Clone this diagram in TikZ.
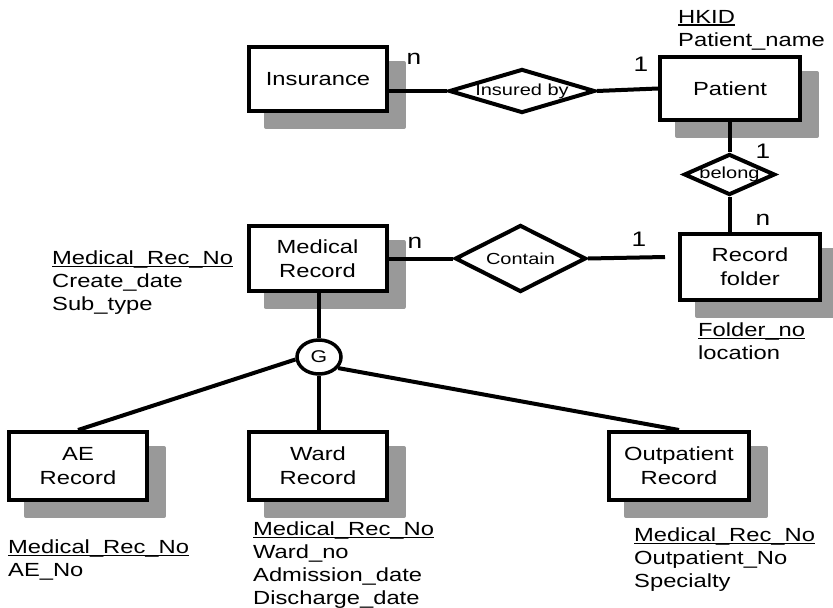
\documentclass[tikz,border=0pt]{standalone}
\usepackage{fontspec}
\setmainfont{Liberation Sans}[FakeStretch=1.25]
\usetikzlibrary{shapes.geometric,shadows}
\definecolor{shadowgray}{HTML}{999999}

% key attribute: underline sitting on the underscore level
\newsavebox\keybox
\newcommand\keyul[1]{\sbox\keybox{#1}\rlap{\rule[-2.5pt]{\wd\keybox}{1.3pt}}\usebox\keybox}
% relationship label that does not enlarge its diamond
\newcommand\rellabel[1]{\makebox[0pt]{#1}}

\begin{document}
\begin{tikzpicture}[x=1pt,y=-1pt,
  entity/.style={draw, line width=4pt, fill=white, rectangle,
    minimum width=138pt, minimum height=64pt, inner sep=0pt, align=center,
    font=\fontsize{19}{24}\selectfont,
    drop shadow={shadow xshift=17pt, shadow yshift=-16pt, opacity=1,
      fill=shadowgray, draw=shadowgray, line width=4pt, line join=round}},
  rel/.style={draw, diamond, line width=4pt, fill=white, inner sep=0pt,
    font=\fontsize{16}{19}\selectfont},
  gen/.style={draw, ellipse, line width=3.5pt, fill=white,
    minimum width=44pt, minimum height=34pt, inner sep=0pt,
    font=\fontsize{17}{20}\selectfont},
  link/.style={line width=4pt},
  card/.style={font=\fontsize{21}{25}\selectfont, inner sep=0pt},
  attr/.style={anchor=north west, align=left, inner sep=0pt,
    font=\fontsize{19}{23}\selectfont}]

\path[fill=white, use as bounding box] (0,0) rectangle (833,608);

% entities
\node[entity] (ins) at (318,79) {Insurance};
\node[entity, minimum width=140pt, minimum height=63pt] (pat) at (730,88.5) {Patient};
\node[entity, minimum width=140pt, minimum height=66pt] (fold) at (750,267) {Record\\folder};
\node[entity, minimum height=65pt] (med) at (317.5,258.5) {Medical\\Record};
\node[entity, minimum height=68pt] (ae) at (78,466) {AE\\Record};
\node[entity, minimum height=68pt] (ward) at (318,466) {Ward\\Record};
\node[entity, minimum width=140pt, minimum height=68pt] (outp) at (679,466) {Outpatient\\Record};

% relationships
\node[rel, minimum width=146pt, minimum height=44pt] (insby) at (522,91) {\rellabel{Insured by}};
\node[rel, minimum width=91pt, minimum height=41pt] (bel) at (729.5,174.5) {\rellabel{belong}};
\node[rel, minimum width=131pt, minimum height=67pt] (cont) at (520.5,258.5) {\rellabel{Contain}};

% generalisation
\node[gen] (g) at (319,357) {G};

% connectors
\coordinate (contend) at (665,257);
\draw[link] (insby.west) -- (insby.west -| ins.east);
\draw[link] (insby.east) -- (pat.west);
\draw[link] (pat.south -| bel.north) -- (bel.north);
\draw[link] (bel.south) -- (bel.south |- fold.north);
\draw[link] (med.east) -- (cont.west);
\draw[link] (cont.east) -- (contend);
\draw[link] (med.south -| g.north) -- (g.north);
\draw[link] (g.186) -- (ae.north);
\draw[link] (g.south) -- (g.south |- ward.north);
\draw[link] (g.-30) -- (outp.north);

% cardinalities
\node[card] (cIns) at (414,59) {n};
\node[card] (cPat) at (641,64) {1};
\node[card] (cBelTop) at (763,151) {1};
\node[card] (cBelBot) at (763,220) {n};
\node[card] (cMed) at (415,243) {n};
\node[card] (cFold) at (639,239) {1};

% attributes
\node[attr] (aPat) at (678,10) {\keyul{HKID}\\Patient\_name};
\node[attr] (aMed) at (52,251) {\keyul{Medical\_Rec\_No}\\Create\_date\\Sub\_type};
\node[attr] (aFold) at (698,323) {\keyul{Folder\_no}\\location};
\node[attr] (aAE) at (8,540) {\keyul{Medical\_Rec\_No}\\AE\_No};
\node[attr] (aWard) at (253,522) {\keyul{Medical\_Rec\_No}\\Ward\_no\\Admission\_date\\Discharge\_date};
\node[attr] (aOut) at (634,528) {\keyul{Medical\_Rec\_No}\\Outpatient\_No\\Specialty};
\end{tikzpicture}
\end{document}
